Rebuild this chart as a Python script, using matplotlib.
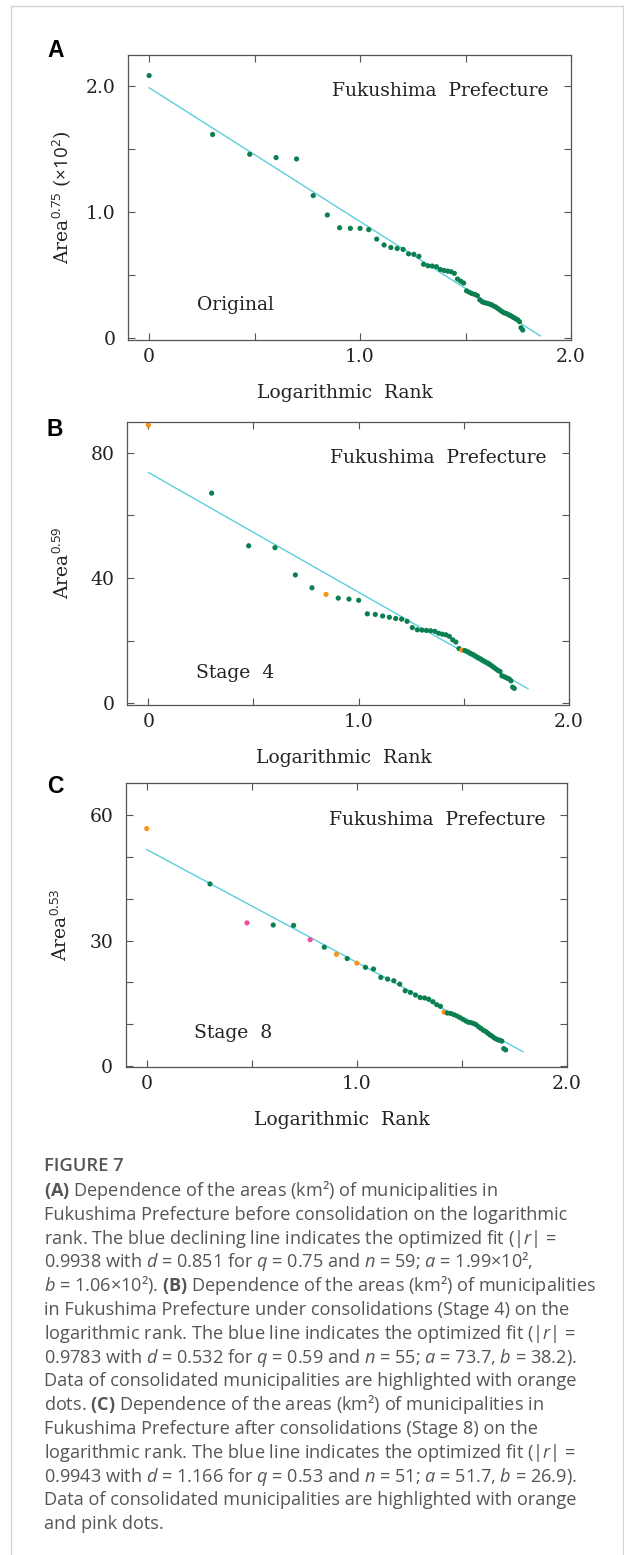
# Fukushima Prefecture municipality areas vs logarithmic rank (three stages)

import numpy as np
import matplotlib.pyplot as plt
from matplotlib.lines import Line2D

plt.rcParams['font.family'] = 'DejaVu Serif'
plt.rcParams['mathtext.fontset'] = 'custom'
plt.rcParams['mathtext.rm'] = 'Open Sans'
plt.rcParams['mathtext.it'] = 'Open Sans:italic'
plt.rcParams['mathtext.bf'] = 'Open Sans:bold'

# log10(rank) positions
log_rank = [0.000, 0.301, 0.477, 0.602, 0.699, 0.778, 0.845, 0.903, 0.954, 1.000,
            1.041, 1.079, 1.114, 1.146, 1.176, 1.204, 1.230, 1.255, 1.279, 1.301,
            1.322, 1.342, 1.362, 1.380, 1.398, 1.415, 1.431, 1.447, 1.462, 1.477,
            1.491, 1.505, 1.519, 1.531, 1.544, 1.556, 1.568, 1.580, 1.591, 1.602,
            1.613, 1.623, 1.633, 1.643, 1.653, 1.663, 1.672, 1.681, 1.690, 1.699,
            1.708, 1.716, 1.724, 1.732, 1.740, 1.748, 1.756, 1.763, 1.771]

# (A) Original, Area^0.75 (x10^2), n = 59
area_a = [2.087, 1.619, 1.462, 1.436, 1.425, 1.134, 0.980, 0.879, 0.874, 0.874,
          0.864, 0.789, 0.742, 0.722, 0.714, 0.707, 0.672, 0.668, 0.652, 0.589,
          0.577, 0.575, 0.570, 0.548, 0.540, 0.535, 0.530, 0.517, 0.472, 0.455,
          0.440, 0.378, 0.366, 0.356, 0.350, 0.340, 0.306, 0.290, 0.284, 0.279,
          0.274, 0.268, 0.258, 0.250, 0.238, 0.226, 0.215, 0.205, 0.200, 0.194,
          0.185, 0.179, 0.170, 0.163, 0.155, 0.147, 0.133, 0.085, 0.067]
fit_a_x = [0.0, 1.855]
fit_a_y = [1.99, 0.02]

# (B) Stage 4, Area^0.59, n = 55
area_b = [88.8, 67.1, 50.3, 49.7, 41.0, 36.9, 34.8, 33.6, 33.3, 32.9,
          28.6, 28.4, 27.9, 27.5, 27.1, 26.9, 26.2, 24.2, 23.5, 23.4,
          23.3, 23.2, 23.0, 22.4, 22.1, 21.9, 21.4, 20.3, 19.6, 17.5,
          17.0, 16.9, 16.5, 16.0, 15.6, 15.1, 14.6, 14.2, 13.7, 13.3,
          12.9, 12.5, 12.0, 11.5, 11.0, 10.5, 10.2, 8.8, 8.6, 8.3,
          8.0, 7.8, 7.2, 5.2, 4.8]
orange_b = [1, 7, 31]          # ranks of consolidated municipalities
fit_b_x = [0.0, 1.805]
fit_b_y = [73.7, 4.7]

# (C) Stage 8, Area^0.53, n = 51
area_c = [56.7, 43.5, 34.2, 33.7, 33.6, 30.2, 28.4, 26.7, 25.7, 24.6,
          23.6, 23.2, 21.2, 20.8, 20.4, 19.6, 18.0, 17.6, 17.0, 16.4,
          16.3, 16.0, 15.4, 14.7, 14.3, 12.9, 12.7, 12.6, 12.3, 12.0,
          11.6, 11.2, 10.8, 10.5, 10.4, 10.2, 9.9, 9.4, 9.0, 8.6,
          8.3, 7.9, 7.5, 7.2, 6.8, 6.5, 6.3, 6.2, 6.0, 4.2,
          3.9]
orange_c = [1, 8, 10, 26]
pink_c = [3, 6]
fit_c_x = [0.0, 1.79]
fit_c_y = [51.7, 3.5]

green = '#0b7f4f'
orange = '#f7941d'
pink = '#ee4f9b'
cyan = '#5ccfdb'
spine = '#555555'
ink = '#222222'


def point_colors(n, orange_ranks=(), pink_ranks=()):
    cols = [green] * n
    for r in orange_ranks:
        cols[r - 1] = orange
    for r in pink_ranks:
        cols[r - 1] = pink
    return cols


def panel(rect, letter, letter_base, y, cols, fit_x, fit_y, ylim, yticks,
          ylabels, yminor, ylabel, stage, stage_y):
    ax = fig.add_axes(rect)
    x = log_rank[:len(y)]
    ax.plot(fit_x, fit_y, color=cyan, lw=1.0, zorder=1)
    ax.scatter(x, y, c=cols, s=14, lw=0, zorder=2)
    ax.set_xlim(-0.1, 2.0)
    ax.set_ylim(*ylim)
    ax.set_xticks([0, 1.0, 2.0], ['0', '1.0', '2.0'])
    ax.set_xticks([0.5, 1.5], minor=True)
    ax.set_yticks(yticks, ylabels)
    ax.set_yticks(yminor, minor=True)
    ax.tick_params(which='both', direction='in', top=True, right=True,
                   length=5, width=0.8, color=spine, labelsize=13.5,
                   labelcolor=ink)
    ax.tick_params(axis='y', which='both', pad=9)
    ax.tick_params(axis='x', which='both', pad=6)
    for s in ax.spines.values():
        s.set_color(spine)
        s.set_linewidth(0.9)
    ax.set_xlabel('Logarithmic  Rank', fontsize=13.5, color=ink)
    ax.xaxis.set_label_coords(0.49, -0.155)
    ax.set_ylabel(ylabel, fontsize=13.5, color=ink)
    ax.yaxis.set_label_coords(-0.124, 0.5)
    ax.text(0.46, 0.872, 'Fukushima  Prefecture', transform=ax.transAxes,
            fontsize=13.5, va='center', color=ink)
    ax.text(0.155, stage_y, stage, transform=ax.transAxes,
            fontsize=13.5, va='center', color=ink)
    fig.text(47 / 624, 1 - letter_base / 1555, letter,
             family='Liberation Sans', fontweight='bold', fontsize=16.5,
             va='baseline', color='black')
    return ax


fig = plt.figure(figsize=(6.24, 15.55), dpi=100)

panel([128 / 624, 1 - 340 / 1555, 443 / 624, 285 / 1555], 'A', 57, area_a,
      point_colors(len(area_a)), fit_a_x, fit_a_y, (-0.012, 2.25),
      [0, 1.0, 2.0], ['0', '1.0', '2.0'], [0.5, 1.5],
      r'Area$^{0.75}$ ($\times10^2$)', 'Original', 0.123)

panel([127.3 / 624, 1 - 705 / 1555, 441.7 / 624, 283.3 / 1555], 'B', 436, area_b,
      point_colors(len(area_b), orange_b), fit_b_x, fit_b_y, (-0.5, 89.9),
      [0, 40, 80], ['0', '40', '80'], [20, 60],
      r'Area$^{0.59}$', 'Stage  4', 0.114)

panel([125.7 / 624, 1 - 1066.7 / 1555, 441.3 / 624, 283.4 / 1555], 'C', 793, area_c,
      point_colors(len(area_c), orange_c, pink_c), fit_c_x, fit_c_y, (-0.1, 67.5),
      [0, 30, 60], ['0', '30', '60'], [10, 20, 40, 50],
      r'Area$^{0.53}$', 'Stage  8', 0.12)

# caption
caption = [
    r'$\mathbf{(A)}$ Dependence of the areas (km²) of municipalities in',
    'Fukushima Prefecture before consolidation on the logarithmic',
    r'rank. The blue declining line indicates the optimized fit (|$r$| =',
    r'0.9938 with $d$ = 0.851 for $q$ = 0.75 and $n$ = 59; $a$ = 1.99×10²,',
    r'$b$ = 1.06×10²). $\mathbf{(B)}$ Dependence of the areas (km²) of municipalities',
    'in Fukushima Prefecture under consolidations (Stage 4) on the',
    r'logarithmic rank. The blue line indicates the optimized fit (|$r$| =',
    r'0.9783 with $d$ = 0.532 for $q$ = 0.59 and $n$ = 55; $a$ = 73.7, $b$ = 38.2).',
    'Data of consolidated municipalities are highlighted with orange',
    r'dots. $\mathbf{(C)}$ Dependence of the areas (km²) of municipalities in',
    'Fukushima Prefecture after consolidations (Stage 8) on the',
    r'logarithmic rank. The blue line indicates the optimized fit (|$r$| =',
    r'0.9943 with $d$ = 1.166 for $q$ = 0.53 and $n$ = 51; $a$ = 51.7, $b$ = 26.9).',
    'Data of consolidated municipalities are highlighted with orange',
    'and pink dots.',
]
cap_color = '#555555'
fig.text(44 / 624, 1 - 1170.7 / 1555, 'FIGURE 7', family='Open Sans',
         fontweight='semibold', fontsize=13.2, color=cap_color, va='baseline')
for i, line in enumerate(caption):
    fig.text(44 / 624, 1 - (1196 + 23.8 * i) / 1555, line, family='Open Sans',
             fontsize=13.1, color=cap_color, va='baseline')

# light card frame
frame = '#d4d4d4'
fig.add_artist(Line2D([11 / 624, 11 / 624], [0, 1 - 6 / 1555], color=frame, lw=1))
fig.add_artist(Line2D([11 / 624, 623 / 624], [1 - 6 / 1555, 1 - 6 / 1555], color=frame, lw=1))
fig.add_artist(Line2D([623 / 624, 623 / 624], [0, 1 - 6 / 1555], color=frame, lw=1))

plt.savefig('out.png', dpi=100)
